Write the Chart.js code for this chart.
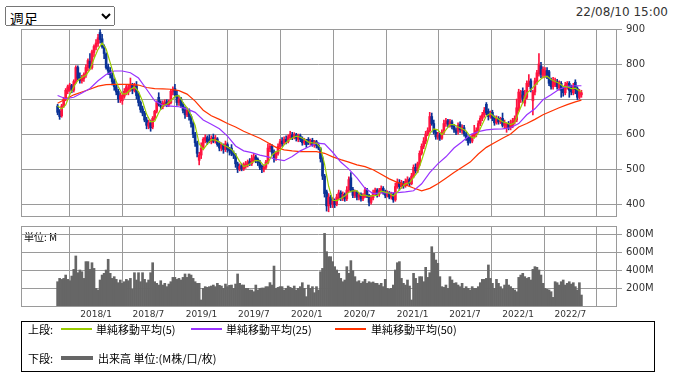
<!DOCTYPE html>
<html>
<head>
<meta charset="utf-8">
<script src="https://cdn.jsdelivr.net/npm/chart.js@4.4.1/dist/chart.umd.min.js"></script>
<style>
  body { margin: 0; background: #fff; width: 674px; height: 377px; overflow: hidden; position: relative; font-family: "DejaVu Sans", sans-serif; }
  #period { position: absolute; left: 5px; top: 6px; width: 110px; height: 20px; font: 14px "Noto Sans CJK JP", sans-serif; color: #000; }
  #stamp { position: absolute; right: 6px; top: 5px; font: 12px "DejaVu Sans", sans-serif; color: #333; }
  #price { position: absolute; left: 0; top: 0; }
  #unit { position: absolute; left: 24px; top: 229px; font: 10px "Noto Sans CJK JP", sans-serif; color: #000; }
  #volume { position: absolute; left: 0; top: 200px; }
  #legend { position: absolute; left: 21px; top: 321px; width: 632px; height: 49px; border: 1px solid #000; font: 11px "Noto Sans CJK JP", sans-serif; color: #000; }
  .row { position: absolute; left: 0; width: 600px; height: 14px; line-height: 14px; white-space: nowrap; }
  .row span { position: absolute; top: 0; }
  .row b { position: absolute; top: 6px; height: 2px; display: block; }
</style>
</head>
<body>
<select id="period"><option>週足</option></select>
<div id="stamp">22/08/10 15:00</div>
<canvas id="price" width="674" height="240"></canvas>
<div id="unit">単位: M</div>
<canvas id="volume" width="674" height="140"></canvas>
<div id="legend">
  <div class="row" style="top:0px">
    <span style="left:6px">上段:</span>
    <b style="left:39px;width:31px;background:#99cc00"></b>
    <span style="left:74px">単純移動平均(5)</span>
    <b style="left:169px;width:31px;background:#9933ff"></b>
    <span style="left:204px">単純移動平均(25)</span>
    <b style="left:313px;width:31px;background:#ff3300"></b>
    <span style="left:349px">単純移動平均(50)</span>
  </div>
  <div class="row" style="top:29px">
    <span style="left:6px">下段:</span>
    <b style="left:39px;width:32px;top:5px;height:4px;background:#666"></b>
    <span style="left:76px">出来高 単位:(M株/口/枚)</span>
  </div>
</div>
<script>
// weekly bars, week 0 = 2017/8/21, last = 2022/8/8
const opens = [
  680,665,652,680,700,722,728,738,725,750,
  790,762,752,758,768,790,808,790,833,848,
  858,890,872,850,828,792,782,768,752,735,
  722,700,695,708,720,720,728,740,725,738,
  712,690,672,660,640,622,632,620,645,665,
  705,688,678,685,692,684,690,720,730,712,
  690,700,684,668,655,668,650,630,600,575,
  525,540,560,582,590,585,578,590,580,586,
  572,560,568,556,570,558,560,545,540,515,
  500,510,500,508,512,522,515,528,535,528,
  520,508,498,505,518,558,565,548,532,545,
  565,580,575,585,578,590,598,592,598,585,
  595,588,575,580,585,575,582,568,578,568,
  558,530,480,435,395,420,398,410,400,418,
  432,418,428,415,440,475,442,425,435,420,
  428,415,422,440,425,405,418,430,440,428,
  438,445,434,425,432,420,428,412,450,462,
  450,460,452,462,470,458,480,505,495,515,
  545,565,580,600,610,650,630,605,592,598,
  588,605,630,638,625,635,622,612,608,628,
  610,618,600,590,590,580,595,598,608,630,
  645,655,685,665,650,662,648,632,645,635,
  645,625,618,630,618,625,635,640,670,705,
  722,688,705,740,752,695,720,750,772,795,
  768,770,782,778,752,735,740,750,732,745,
  728,718,735,745,735,718,748,730,705,712
];
const highs = [
  685,670,685,705,730,740,745,742,755,795,
  795,775,768,775,798,815,830,840,855,870,
  885,898,885,855,832,800,790,775,758,742,
  728,718,715,730,740,740,760,745,745,750,
  718,695,680,665,648,640,640,650,668,695,
  718,695,695,698,698,698,728,735,742,725,
  708,705,690,678,675,672,655,635,605,580,
  548,575,590,598,595,598,595,600,596,590,
  578,575,572,580,575,562,570,552,545,520,
  515,515,518,522,526,530,540,545,540,532,
  525,512,512,525,572,572,570,555,550,572,
  585,590,592,595,598,608,605,604,602,600,
  600,592,588,585,590,586,588,582,582,575,
  562,535,485,440,430,425,418,415,428,440,
  438,435,432,450,478,490,448,440,438,432,
  432,430,448,445,428,425,440,446,444,445,
  452,450,440,438,436,434,432,460,472,470,
  468,465,472,478,475,488,512,515,520,552,
  572,590,608,618,662,660,640,612,605,602,
  612,640,645,642,642,640,628,618,632,635,
  626,625,605,595,594,600,625,618,638,652,
  662,676,690,672,666,668,652,652,650,648,
  660,640,632,636,640,645,652,700,728,725,
  732,725,752,770,758,725,760,782,830,805,
  792,790,790,782,760,762,760,756,752,750,
  735,748,750,750,740,745,755,735,728,725
];
const lows = [
  655,642,648,676,695,715,722,718,720,745,
  755,745,745,750,762,780,785,785,820,840,
  850,860,845,815,785,770,760,740,725,712,
  690,690,685,702,712,712,722,715,720,700,
  680,662,652,635,615,615,608,615,640,660,
  680,670,672,680,678,678,686,712,705,682,
  682,676,660,645,650,640,620,590,565,535,
  512,530,555,575,570,575,572,575,574,565,
  552,552,545,550,548,540,538,530,505,490,
  495,495,496,502,506,510,510,520,518,510,
  498,490,492,500,515,550,540,520,525,540,
  560,565,570,572,575,585,584,586,580,578,
  578,568,570,562,570,568,565,562,560,555,
  520,470,420,380,378,390,390,390,395,412,
  410,410,408,410,435,435,418,418,412,412,
  408,410,418,418,395,400,412,425,420,422,
  432,428,418,420,415,414,405,408,445,440,
  445,445,448,455,452,455,475,488,490,510,
  540,558,572,595,605,625,600,585,585,582,
  585,600,622,620,620,615,605,598,600,605,
  602,594,582,568,574,575,590,592,604,624,
  638,648,655,640,645,638,625,628,628,630,
  620,615,605,612,612,618,628,635,665,690,
  690,680,700,735,720,655,712,742,765,760,
  760,762,758,738,728,728,735,728,725,705,
  708,712,728,705,712,712,715,698,700,705
];
const closes = [
  662,650,680,700,725,735,740,725,750,790,
  760,752,760,770,790,810,790,835,850,860,
  875,870,850,830,790,780,770,750,735,720,
  700,710,710,722,735,730,740,725,738,710,
  690,670,660,640,625,632,618,645,665,690,
  685,678,688,690,684,692,722,728,712,690,
  700,682,668,655,668,650,630,600,575,545,
  540,560,585,590,578,580,588,580,588,570,
  560,570,556,572,556,552,545,540,515,500,
  508,500,512,515,520,515,530,535,525,518,
  505,498,505,520,560,565,548,530,545,565,
  578,572,585,578,592,600,590,598,588,595,
  585,575,580,570,575,580,570,578,568,560,
  530,480,430,395,420,400,410,398,420,432,
  418,428,415,440,470,440,425,435,420,428,
  415,425,440,425,405,418,432,440,428,438,
  445,432,425,432,420,428,412,450,462,450,
  460,452,465,470,458,480,505,495,515,545,
  565,580,600,610,650,630,605,592,598,588,
  605,630,638,628,635,622,612,605,625,612,
  620,600,590,575,580,595,600,610,630,645,
  655,668,660,650,660,645,632,645,635,640,
  625,632,628,618,630,638,645,675,720,712,
  700,710,745,750,728,720,752,775,800,770,
  785,780,765,745,735,755,752,735,748,725,
  718,740,745,725,720,738,728,705,722,718
];
// volume, millions of shares
const volumes = [
  270,307,296,307,344,296,281,333,407,556,
  370,400,381,307,493,493,407,481,418,196,
  178,289,344,363,400,519,363,307,326,296,
  259,289,252,270,296,281,307,185,370,289,
  370,270,370,296,259,289,370,481,270,252,
  233,281,233,252,215,244,270,318,318,296,
  307,289,318,356,318,356,344,307,270,252,
  252,67,196,215,207,215,222,233,215,252,
  230,222,196,244,215,230,233,196,244,356,
  252,233,233,196,196,178,178,159,233,178,
  196,200,200,215,215,260,233,444,196,207,
  215,215,178,196,222,207,196,222,178,196,
  215,259,196,104,233,196,215,148,215,178,
  381,418,807,604,548,548,493,437,400,363,
  307,270,289,437,363,504,393,326,270,281,
  252,270,296,252,270,259,267,252,252,233,
  252,215,296,196,185,196,233,400,481,493,
  307,252,233,289,222,67,363,307,252,326,
  326,270,430,318,370,659,585,511,474,326,
  215,207,233,196,326,289,252,259,233,215,
  252,196,215,196,178,215,196,196,215,259,
  296,296,307,456,307,252,196,296,252,215,
  185,233,296,233,215,196,178,159,318,344,
  363,326,307,318,289,407,437,430,400,344,
  252,196,185,178,159,96,270,259,233,270,
  289,233,252,270,244,259,215,178,259,122
];
// moving averages: MA5 every 2 weeks, MA25 / MA50 every 4 weeks, plus the last week
const ma5 = [
  680,672,683,712,735,753,762,768,784,815,842,860,843,804,765,735,715,715,727,734,
  721,694,657,635,637,661,681,685,695,708,710,690,675,654,625,572,556,571,584,583,
  577,569,563,556,542,522,507,511,518,525,523,510,518,540,550,553,569,581,589,594,
  591,585,577,575,574,561,514,451,411,410,416,423,434,438,438,425,426,422,424,425,
  437,434,431,423,434,447,458,461,476,491,525,561,601,615,612,598,612,627,627,620,
  615,609,593,588,603,628,652,659,649,643,635,632,627,632,662,690,717,727,739,752,
  762,765,756,750,745,736,735,730,731,723,722
];
const ma25 = [
  710,701,705,717,730,752,770,780,780,775,760,728,695,682,680,678,672,662,640,628,
  615,594,566,552,547,540,535,528,524,536,552,563,574,572,548,520,500,475,445,430,
  432,432,433,435,438,458,490,515,535,560,578,598,607,612,614,615,618,630,655,672,
  698,712,728,736,738,738
];
const ma50 = [
  688,700,712,720,728,737,741,742,742,742,740,733,730,729,728,724,714,694,668,652,
  642,630,620,608,598,588,575,562,555,552,550,550,550,545,535,527,520,512,507,498,
  485,472,462,455,446,438,445,458,474,490,505,520,543,562,575,588,600,620,630,642,
  655,665,675,684,692,697
];
const lastWeek = 259;
const priceTicks = [400, 500, 600, 700, 800, 900];
const volumeTicks = [200, 400, 600, 800];
const dateWeeks = [19, 44.86, 71.14, 97, 123.29, 149.29, 175.57, 201.43, 227.71, 253.57];
const dateLabels = ['2018/1', '2018/7', '2019/1', '2019/7', '2020/1', '2020/7', '2021/1', '2021/7', '2022/1', '2022/7'];

const upColor = '#ff1440';
const downColor = '#0a3296';
const gridColor = '#9a9a9a';

const frame = {
  id: 'frame',
  beforeDatasetsDraw(chart) {
    const { ctx, chartArea: a } = chart;
    ctx.save();
    ctx.strokeStyle = gridColor;
    ctx.lineWidth = 1;
    ctx.strokeRect(Math.round(a.left) + 0.5, Math.round(a.top) + 0.5, Math.round(a.width), Math.round(a.height));
    ctx.restore();
  }
};

const candleColor = ctx => closes[ctx.dataIndex] >= opens[ctx.dataIndex] ? upColor : downColor;
const maLine = (vals, step, color, label) => ({
  type: 'line',
  label: label,
  data: vals.map((v, k) => ({ x: Math.min(k * step, lastWeek), y: v })),
  borderColor: color,
  borderWidth: 1.2,
  pointRadius: 0,
  tension: 0,
  order: 0
});

const xScale = (showLabels) => ({
  type: 'linear',
  min: -18.1,
  max: 276.1,
  offset: false,
  afterBuildTicks: s => { s.ticks = dateWeeks.map(v => ({ value: v })); },
  ticks: {
    display: showLabels,
    autoSkip: false,
    maxRotation: 0,
    padding: 3,
    color: '#333',
    font: { size: 9, family: 'DejaVu Sans' },
    callback: (v, i) => dateLabels[i]
  },
  grid: { color: gridColor, drawTicks: false },
  border: { display: false },
  afterFit: s => { s.height = showLabels ? 20 : 0; }
});

const priceCtx = document.getElementById('price');
new Chart(priceCtx, {
  type: 'bar',
  data: {
    datasets: [
      maLine(ma5, 2, '#99cc00', '単純移動平均(5)'),
      maLine(ma25, 4, '#9933ff', '単純移動平均(25)'),
      maLine(ma50, 4, '#ff3300', '単純移動平均(50)'),
      {
        label: 'body',
        data: opens.map((o, i) => ({ x: i, y: [o, closes[i]] })),
        backgroundColor: candleColor,
        barThickness: 2,
        grouped: false,
        order: 1
      },
      {
        label: 'wick',
        data: highs.map((h, i) => ({ x: i, y: [lows[i], h] })),
        backgroundColor: candleColor,
        barThickness: 1,
        grouped: false,
        order: 2
      }
    ]
  },
  options: {
    responsive: false,
    animation: false,
    layout: { padding: { left: 21, top: 29, right: 0, bottom: 24 } },
    plugins: { legend: { display: false }, tooltip: { enabled: false } },
    scales: {
      x: xScale(false),
      y: {
        position: 'right',
        min: 366,
        max: 900,
        afterBuildTicks: s => { s.ticks = priceTicks.map(v => ({ value: v })); },
        ticks: { color: '#333', padding: 4, font: { size: 10, family: 'DejaVu Sans' } },
        grid: { color: gridColor, tickLength: 6 },
        border: { color: gridColor },
        afterFit: s => { s.width = 58; }
      }
    }
  },
  plugins: [frame]
});

const volumeCtx = document.getElementById('volume');
new Chart(volumeCtx, {
  type: 'bar',
  data: {
    datasets: [{
      label: '出来高',
      data: volumes.map((v, i) => ({ x: i, y: v })),
      backgroundColor: '#666666',
      barThickness: 2,
      grouped: false
    }]
  },
  options: {
    responsive: false,
    animation: false,
    layout: { padding: { left: 21, top: 26, right: 0, bottom: 14 } },
    plugins: { legend: { display: false }, tooltip: { enabled: false } },
    scales: {
      x: xScale(true),
      y: {
        position: 'right',
        min: 0,
        max: 889,
        afterBuildTicks: s => { s.ticks = volumeTicks.map(v => ({ value: v })); },
        ticks: { color: '#333', padding: 4, font: { size: 10, family: 'DejaVu Sans' }, callback: v => v + 'M' },
        grid: { color: gridColor, tickLength: 6 },
        border: { color: gridColor },
        afterFit: s => { s.width = 58; }
      }
    }
  },
  plugins: [frame]
});
</script>
</body>
</html>
